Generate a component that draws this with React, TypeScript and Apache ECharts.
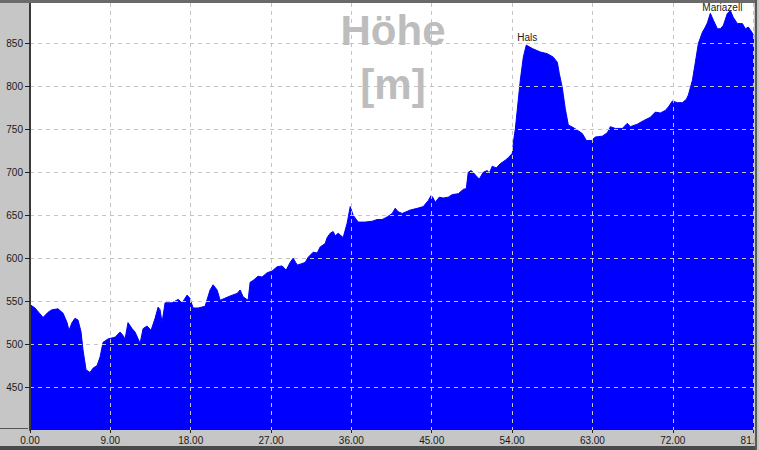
import { useEffect, useRef } from "react";
import * as echarts from "echarts";

// distance along the route [km]
const distanceKm = [
  0, 0.56, 1.46, 2.02, 2.47, 3.14, 3.7, 4.15, 4.37, 4.71, 5.04, 5.38, 5.72, 5.94, 6.28, 6.72,
  7.06, 7.51, 7.85, 8.18, 8.74, 9.53, 10.09, 10.42, 10.65, 10.98, 11.43, 11.77, 12.33, 12.67,
  13.11, 13.56, 14.01, 14.35, 14.57, 14.79, 15.13, 15.92, 16.59, 17.04, 17.6, 17.93, 18.27,
  18.83, 19.61, 20.17, 20.51, 20.96, 21.3, 22.42, 23.2, 23.54, 23.87, 24.43, 24.66, 24.99,
  25.55, 26.0, 26.56, 27.12, 27.68, 28.24, 28.69, 29.14, 29.48, 29.93, 30.26, 30.82, 31.16,
  31.72, 32.17, 32.5, 33.06, 33.29, 33.63, 33.96, 34.19, 34.52, 35.08, 35.53, 35.87, 36.2,
  36.76, 37.55, 38.33, 38.89, 39.45, 40.01, 40.57, 40.91, 41.25, 41.69, 42.59, 43.38, 44.05,
  44.61, 44.94, 45.17, 45.39, 45.84, 46.29, 46.85, 47.3, 47.97, 48.53, 48.87, 49.09, 49.43,
  49.88, 50.32, 50.77, 51.22, 51.45, 51.78, 52.23, 52.68, 53.24, 53.58, 54.02, 54.2, 54.36,
  54.92, 55.26, 55.59, 56.27, 57.16, 57.95, 58.62, 59.07, 59.29, 59.63, 59.96, 60.3, 60.86,
  61.31, 61.87, 62.32, 62.88, 63.33, 64.11, 64.67, 65.01, 65.57, 66.35, 66.91, 67.25, 68.03,
  68.71, 69.49, 70.05, 70.61, 71.17, 71.51, 71.96, 72.52, 73.08, 73.53, 73.75, 74.2, 74.53,
  74.87, 75.32, 75.65, 75.88, 76.21, 76.55, 77.0, 77.33, 77.67, 78.12, 78.46, 78.79, 79.24,
  79.8, 80.14, 80.47, 80.92, 81.1,
];

// elevation [m]
const elevationM = [
  546, 542, 531, 537, 540, 541, 536, 525, 516, 525, 530, 528, 514, 493, 470, 467,
  472, 475, 485, 502, 506, 508, 514, 510, 506, 525, 518, 514, 501, 518,
  521, 516, 530, 543, 540, 525, 548, 548, 552, 548, 557, 553, 542,
  542, 544, 563, 569, 563, 551, 556, 559, 563, 555, 551, 572, 574,
  579, 578, 583, 585, 590, 591, 586, 595, 600, 592, 593, 595, 601,
  607, 606, 613, 617, 624, 629, 631, 626, 629, 624, 641, 660, 650,
  642, 642, 643, 645, 645, 648, 652, 658, 654, 652, 656, 658, 660,
  667, 673, 670, 665, 671, 670, 671, 674, 675, 680, 681, 700, 702,
  697, 692, 700, 702, 699, 707, 705, 710, 714, 717, 722, 739, 750,
  807, 834, 848, 844, 840, 838, 834, 828, 815, 798, 774, 755, 752,
  749, 745, 737, 737, 741, 742, 746, 753, 751, 751, 757, 753, 756,
  760, 764, 770, 769, 772, 776, 783, 781, 781, 785, 790, 807, 828,
  850, 863, 869, 874, 885, 877, 867, 867, 871, 885, 888, 880, 873,
  873, 867, 869, 862, 858,
];

const yTickValues = [450, 500, 550, 600, 650, 700, 750, 800, 850];
const xTickValues = [0, 9, 18, 27, 36, 45, 54, 63, 72, 81];

const placeNames = ["Hals", "Mariazell"];
const placeKm = [55.59, 76.21];
const placeM = [848, 885];

const titleLines = ["Höhe", "[m]"];

export default function App() {
  const ref = useRef<HTMLDivElement>(null);

  useEffect(() => {
    if (!ref.current) return;
    const chart = echarts.init(ref.current, null, { renderer: "svg" });
    const data = distanceKm.map((d, i) => [d, elevationM[i]]);
    const labelFont = "Liberation Sans, Arial, sans-serif";

    chart.setOption({
      animation: false,
      backgroundColor: "#c6c6c6",
      grid: {
        left: 30,
        top: 3,
        right: 5,
        bottom: 20,
        outerBoundsMode: "none",
        containLabel: false,
        show: true,
        backgroundColor: "#ffffff",
        borderWidth: 0,
      },
      xAxis: {
        type: "value",
        min: 0,
        max: 81.1,
        interval: 9,
        z: 5,
        axisLine: { show: false },
        axisTick: {
          show: true,
          length: 3,
          customValues: xTickValues,
          lineStyle: { color: "#222", width: 1 },
        },
        axisLabel: {
          show: true,
          customValues: xTickValues,
          fontSize: 10,
          fontFamily: labelFont,
          color: "#1a1a1a",
          margin: 5,
          formatter: (v: number) => (xTickValues.includes(v) ? v.toFixed(2) : ""),
        },
        splitLine: {
          show: true,
          lineStyle: { color: "#c4c4c4", type: [4, 4], width: 1 },
        },
      },
      yAxis: {
        type: "value",
        min: 400,
        max: 897,
        interval: 50,
        z: 5,
        axisLine: { show: true, lineStyle: { color: "#3a3a3a", width: 2 } },
        axisTick: {
          show: true,
          length: 5,
          customValues: yTickValues,
          lineStyle: { color: "#222", width: 1 },
        },
        axisLabel: {
          show: true,
          customValues: yTickValues,
          fontSize: 10,
          fontFamily: labelFont,
          color: "#1a1a1a",
          margin: 7,
          formatter: (v: number) => (yTickValues.includes(v) ? String(v) : ""),
        },
        splitLine: {
          show: true,
          lineStyle: { color: "#c4c4c4", type: [4, 4], width: 1 },
        },
      },
      series: [
        {
          type: "line",
          data,
          z: 1,
          symbol: "none",
          lineStyle: { color: "#0000ff", width: 1 },
          areaStyle: { color: "#0000ff", opacity: 1 },
          markPoint: {
            symbol: "circle",
            symbolSize: 0,
            label: {
              show: true,
              position: "top",
              distance: 3,
              fontSize: 10,
              fontFamily: labelFont,
              color: "#222",
              formatter: "{b}",
            },
            data: placeNames.map((n, i) => ({
              name: n,
              coord: [placeKm[i], placeM[i]],
              label: i === 1 ? { offset: [12, 2] } : { offset: [1, 0] },
            })),
          },
        },
      ],
      graphic: [
        {
          type: "text",
          z: 50,
          x: 393,
          y: 30,
          style: {
            text: titleLines[0],
            font: "bold 42px Liberation Sans, Arial, sans-serif",
            fill: "#bdbdbd",
            align: "center",
            verticalAlign: "middle",
          },
        },
        {
          type: "text",
          z: 50,
          x: 393,
          y: 84,
          style: {
            text: titleLines[1],
            font: "bold 42px Liberation Sans, Arial, sans-serif",
            fill: "#bdbdbd",
            align: "center",
            verticalAlign: "middle",
          },
        },
        { type: "rect", z: 60, shape: { x: 0, y: 0, width: 759, height: 3 }, style: { fill: "#6a6a6a" } },
        { type: "rect", z: 60, shape: { x: 0, y: 446, width: 759, height: 4 }, style: { fill: "#4a4a4a" } },
        { type: "rect", z: 60, shape: { x: 755, y: 0, width: 2, height: 450 }, style: { fill: "#5a5a5a" } },
        { type: "rect", z: 60, shape: { x: 757, y: 0, width: 2, height: 450 }, style: { fill: "#c6c6c6" } },
        { type: "rect", z: 60, shape: { x: 0, y: 428, width: 28, height: 1 }, style: { fill: "#555555" } },
      ],
    });

    return () => chart.dispose();
  }, []);

  return (
    <div
      ref={ref}
      style={{ position: "fixed", left: 0, top: 0, width: 759, height: 450 }}
    />
  );
}
